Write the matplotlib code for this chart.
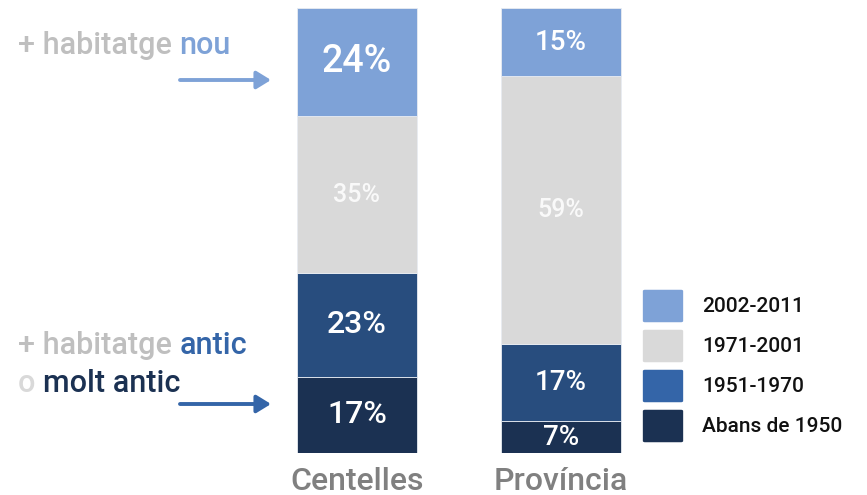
import matplotlib
matplotlib.use("Agg")
import matplotlib.pyplot as plt
from matplotlib.patches import FancyBboxPatch, FancyArrowPatch
import numpy as np

plt.rcParams['font.family'] = ['Roboto', 'DejaVu Sans']

# ---- data ----
categories = ["Centelles", "Província"]
periods = ["Abans de 1950", "1951-1970", "1971-2001", "2002-2011"]
centelles = [17, 23, 35, 24]
provincia = [7, 17, 59, 15]
legend_order = ["2002-2011", "1971-2001", "1951-1970", "Abans de 1950"]

# ---- style ----
bar_colors = ["#1b3152", "#284d7e", "#d9d9d9", "#7ea2d7"]
legend_colors = {"2002-2011": "#7ea2d7", "1971-2001": "#d9d9d9",
                 "1951-1970": "#3465a8", "Abans de 1950": "#1b3152"}
label_sizes = [[23, 23, 18, 27], [20, 20, 18, 20]]
label_alpha = [1, 1, 0.85, 1]

W, H = 867, 495
fig = plt.figure(figsize=(W / 100, H / 100), dpi=100)
ax = fig.add_axes([0, (H - 453) / H, 1, 445 / H])
ax.set_xlim(-357 / 204, (W - 357) / 204)
ax.set_ylim(0, 100)
ax.axis("off")

data = np.array([centelles, provincia], dtype=float)
norm = data / data.sum(axis=1, keepdims=True) * 100
x = np.arange(len(categories))
bottom = np.zeros(len(categories))
for j, per in enumerate(periods):
    ax.bar(x, norm[:, j], bottom=bottom, width=120 / 204, color=bar_colors[j],
           edgecolor="#e8ecf2", linewidth=0.6)
    for i in range(len(categories)):
        ax.text(x[i], bottom[i] + norm[i, j] / 2, f"{int(data[i, j])}%",
                ha="center", va="center", color="white", alpha=label_alpha[j],
                fontsize=label_sizes[i][j], fontweight="medium")
    bottom += norm[:, j]

# category labels
for i, c in enumerate(categories):
    ax.annotate(c, xy=(x[i], 0), xycoords="data", xytext=(0, -28),
                textcoords="offset pixels", ha="center", va="center",
                fontsize=23, color="#808080", fontweight="medium")

# legend (manual, rounded swatches)
for k, lab in enumerate(legend_order):
    yc = 306 + 40 * k
    fig.patches.append(FancyBboxPatch((645 / W, (H - yc - 15) / H), 36 / W, 30 / H,
                                      boxstyle="round,pad=0.0025",
                                      transform=fig.transFigure,
                                      facecolor=legend_colors[lab], edgecolor="none"))
    fig.text(702 / W, (H - yc) / H, lab, ha="left", va="center",
             fontsize=15, color="#111111", fontweight="medium")

# annotations on left
fs = 22
t1 = fig.text(18 / W, (H - 45) / H, "+ habitatge ", fontsize=fs, color="#bfbfbf",
              va="center", ha="left", fontweight="medium")
ax.annotate("nou", xy=(1, 0), xycoords=t1, va="bottom", ha="left",
            fontsize=fs, color="#7ea2d7", fontweight="medium")

t2 = fig.text(18 / W, (H - 345) / H, "+ habitatge ", fontsize=fs, color="#bfbfbf",
              va="center", ha="left", fontweight="medium")
ax.annotate("antic", xy=(1, 0), xycoords=t2, va="bottom", ha="left",
            fontsize=fs, color="#3465a8", fontweight="medium")

t3 = fig.text(18 / W, (H - 383) / H, "o ", fontsize=fs, color="#d9d9d9",
              va="center", ha="left", fontweight="medium")
ax.annotate("molt antic", xy=(1, 0), xycoords=t3, va="bottom", ha="left",
            fontsize=fs, color="#1b3152", fontweight="medium")

# arrows
for yc, col in [(80, "#7ea2d7"), (404, "#3465a8")]:
    fig.add_artist(FancyArrowPatch(
        (180 / W, (H - yc) / H), (271 / W, (H - yc) / H),
        transform=fig.transFigure, arrowstyle="-|>,head_length=3.9,head_width=2.4",
        mutation_scale=2.2, color=col, linewidth=2.8, shrinkA=0, shrinkB=0))

fig.savefig("out.png", dpi=100)
